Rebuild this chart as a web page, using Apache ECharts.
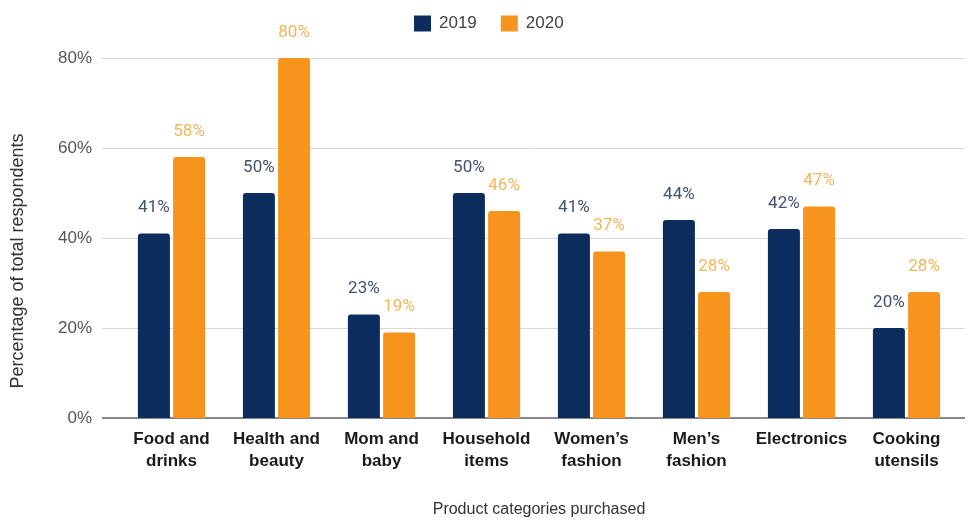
<!DOCTYPE html>
<html><head><meta charset="utf-8">
<script src="https://cdn.jsdelivr.net/npm/echarts@6/dist/echarts.min.js"></script>
<style>html,body{margin:0;padding:0;background:#fff}#c{width:969px;height:520px}</style>
</head><body><div id="c"></div>
<script>
const categories = ['Food and\ndrinks','Health and\nbeauty','Mom and\nbaby','Household\nitems','Women\u2019s\nfashion','Men\u2019s\nfashion','Electronics','Cooking\nutensils'];
const values2019 = [41, 50, 23, 50, 41, 44, 42, 20];
const values2020 = [58, 80, 19, 46, 37, 28, 47, 28];
const yTicks = [0, 20, 40, 60, 80];
const seriesNames = ['2019', '2020'];

const chart = echarts.init(document.getElementById('c'));
const yMin = yTicks[0], yMax = yTicks[yTicks.length - 1], yStep = yTicks[1] - yTicks[0];
chart.setOption({
  animation: false,
  legend: {
    top: 10, left: 409, itemWidth: 17, itemHeight: 16, itemGap: 24,
    icon: 'rect',
    textStyle: { fontFamily: 'Liberation Sans, Arial', fontSize: 17, color: '#444', padding: [0, 0, 0, 3] },
    data: seriesNames
  },
  grid: [
    { left: 102, right: 4, top: 58, bottom: 102, outerBoundsMode: 'none', containLabel: false },
    { left: 119, right: 10, top: 58, bottom: 102, outerBoundsMode: 'none', containLabel: false }
  ],
  xAxis: [
    { gridIndex: 0, type: 'value', min: 0, max: 1, show: true,
      axisLine: { show: false }, axisTick: { show: false }, axisLabel: { show: false }, splitLine: { show: false } },
    { gridIndex: 1, type: 'category', data: categories,
      axisLine: { show: false }, axisTick: { show: false },
      axisLabel: { interval: 0, margin: 10, fontFamily: 'Liberation Sans, Arial', fontWeight: 'bold', fontSize: 17, color: '#1a1a1a', lineHeight: 22 },
      name: 'Product categories purchased', nameLocation: 'middle', nameGap: 84,
      nameTextStyle: { fontFamily: 'Liberation Sans, Arial', fontSize: 16, color: '#333' } }
  ],
  yAxis: [
    { gridIndex: 0, type: 'value', min: yMin, max: yMax, interval: yStep,
      axisLine: { show: false }, axisTick: { show: false },
      axisLabel: { formatter: v => v + '%', margin: 10, fontFamily: 'Liberation Sans, Arial', fontSize: 17, color: '#555' },
      splitLine: { lineStyle: { color: '#d9d9d9', width: 1 } },
      name: 'Percentage of total respondents', nameLocation: 'middle', nameGap: 75,
      nameTextStyle: { fontFamily: 'Liberation Sans, Arial', fontSize: 18, color: '#333', padding: [0, 46, 0, 0] } },
    { gridIndex: 1, type: 'value', min: yMin, max: yMax, interval: yStep, show: false, splitLine: { show: false } }
  ],
  series: [
    { type: 'line', xAxisIndex: 0, yAxisIndex: 0, data: [[0, 0], [1, 0]], symbol: 'none',
      lineStyle: { color: '#888', width: 2 }, silent: true, z: 1, legendHoverLink: false, name: '_axis' },
    { name: seriesNames[0], type: 'bar', xAxisIndex: 1, yAxisIndex: 1, data: values2019,
      barGap: '10%', barCategoryGap: '36%', z: 3,
      itemStyle: { color: '#0c2c5e', borderRadius: [3, 3, 0, 0] },
      label: { show: true, position: 'top', distance: 17, formatter: '{c}%', fontFamily: 'Roboto', fontSize: 17, color: '#43536e' } },
    { name: seriesNames[1], type: 'bar', xAxisIndex: 1, yAxisIndex: 1, data: values2020,
      barGap: '10%', barCategoryGap: '36%', z: 3,
      itemStyle: { color: '#f7941d', borderRadius: [3, 3, 0, 0] },
      label: { show: true, position: 'top', distance: 17, formatter: '{c}%', fontFamily: 'Roboto', fontSize: 17, color: '#f2b65a' } }
  ]
});
</script></body></html>
